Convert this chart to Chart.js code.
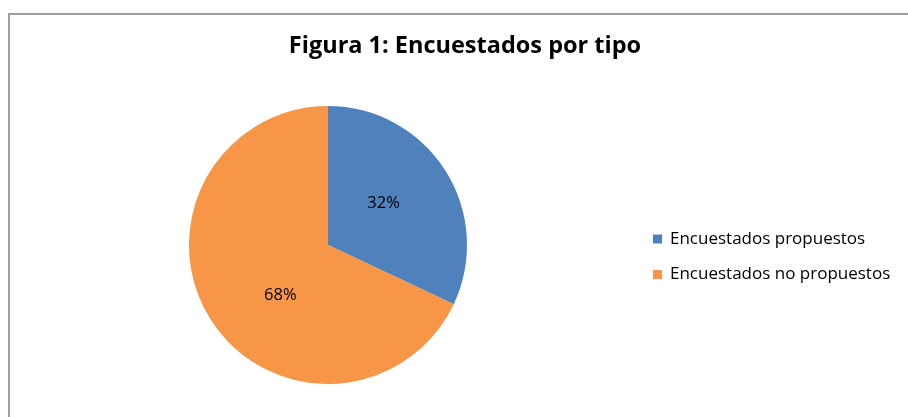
<!DOCTYPE html>
<html>
<head>
<meta charset="utf-8">
<script src="https://cdn.jsdelivr.net/npm/chart.js@4.4.0/dist/chart.umd.min.js"></script>
<style>
  html, body { margin: 0; padding: 0; background: #fff; }
  #wrap { width: 908px; height: 417px; position: relative; }
</style>
</head>
<body>
<div id="wrap"><canvas id="myChart" width="908" height="417"></canvas></div>
<script>
const ctx = document.getElementById('myChart');

const chartTitle = 'Figura 1: Encuestados por tipo';
const categories = ['Encuestados propuestos', 'Encuestados no propuestos'];
const shares = [32, 68];
const sliceColors = ['#4F81BD', '#F79646'];

const fontFamily = '"Open Sans", Lato, sans-serif';

// frame, title, legend and slice labels drawn by hand
const decorations = {
  id: 'decorations',
  beforeDraw(chart) {
    const c = chart.ctx;
    c.save();
    c.strokeStyle = '#a0a0a0';
    c.lineWidth = 2;
    c.beginPath();
    c.moveTo(9, 420);
    c.lineTo(9, 14);
    c.lineTo(912, 14);
    c.stroke();
    c.restore();
  },
  afterDraw(chart) {
    const c = chart.ctx;
    c.save();
    c.fillStyle = '#000';
    c.textBaseline = 'middle';
    c.textAlign = 'center';
    c.font = 'bold 23.5px ' + fontFamily;
    c.fillText(chartTitle, 465, 46);

    // legend
    c.textAlign = 'left';
    c.font = '17px ' + fontFamily;
    chart.data.labels.forEach((lab, i) => {
      const y = 239 + i * 35.5;
      c.fillStyle = chart.data.datasets[0].backgroundColor[i];
      c.fillRect(653, y - 4.5, 9, 9);
      c.fillStyle = '#000';
      c.fillText(lab, 670, y);
    });

    // percentage labels, a bit further round for the big slice
    c.textAlign = 'center';
    c.font = '16.5px ' + fontFamily;
    const meta = chart.getDatasetMeta(0);
    meta.data.forEach((arc, i) => {
      const a = (arc.startAngle + arc.endAngle) / 2 - (i === 0 ? 0.08 : 0.25);
      const r = arc.outerRadius * 0.5;
      c.fillText(chart.data.datasets[0].data[i] + '%', arc.x + r * Math.cos(a), arc.y + r * Math.sin(a));
    });
    c.restore();
  }
};

new Chart(ctx, {
  type: 'pie',
  data: {
    labels: categories,
    datasets: [{
      data: shares,
      backgroundColor: sliceColors,
      borderWidth: 0
    }]
  },
  options: {
    responsive: false,
    animation: false,
    layout: {
      padding: { left: 189, right: 441, top: 106, bottom: 33 }
    },
    plugins: {
      legend: { display: false },
      title: { display: false },
      tooltip: { enabled: false }
    }
  },
  plugins: [decorations]
});
</script>
</body>
</html>
